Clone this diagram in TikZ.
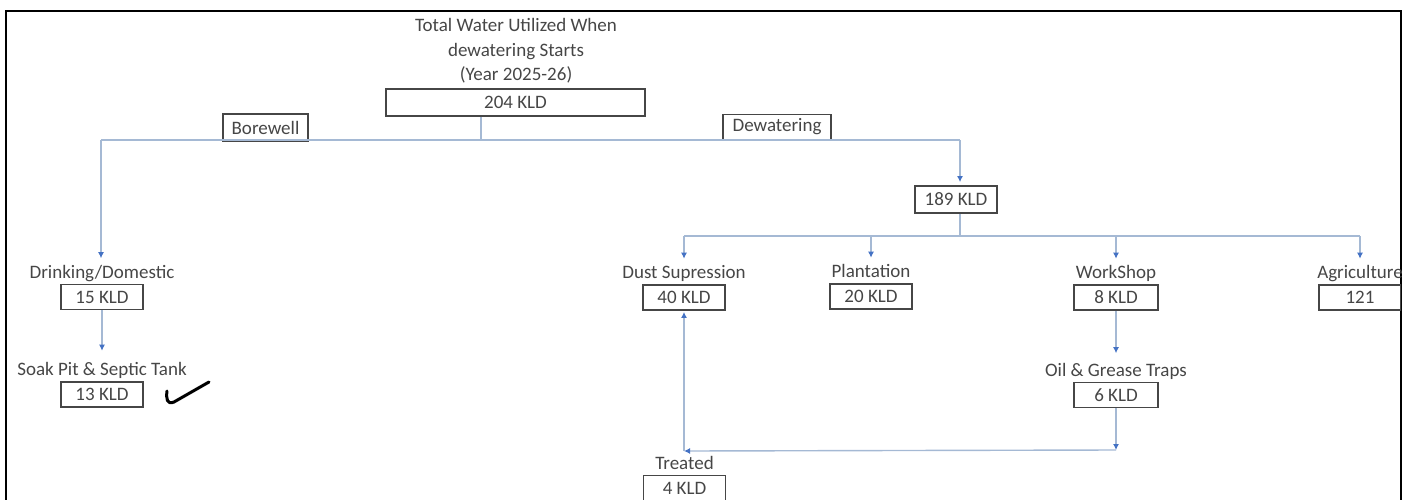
\documentclass[tikz,border=0pt]{standalone}
\usepackage{fontspec}
\setmainfont{Carlito}
\usetikzlibrary{arrows.meta, positioning}
\definecolor{linkblue}{RGB}{165,185,212}
\definecolor{tipblue}{RGB}{68,114,196}
\definecolor{inkgray}{RGB}{70,70,70}

\begin{document}
\begin{tikzpicture}[
			x=1pt, y=-1pt,
			every node/.style={font=\fontsize{19}{24.5}\selectfont, text=inkgray},
			box/.style={rectangle, draw=inkgray, line width=1.8pt, minimum width=82pt, minimum height=25pt, inner sep=0pt},
			lbl/.style={inner sep=1pt, text height=13pt, text depth=4pt},
			link/.style={draw=linkblue, line width=1.4pt},
			flow/.style={link, -{Latex[length=6pt, width=6pt, color=tipblue]}}
			]
			\useasboundingbox (0,0) rectangle (1411,499);
			\draw[line width=2.5pt] (6,11) rectangle (1401,530);
			\begin{scope}
			\clip (6,11) rectangle (1401,530);
			\node[align=center] (title) at (516,51) {Total Water Utilized When\\dewatering Starts\\(Year 2025-26)};
			\node[box, minimum width=259pt, minimum height=27pt] (total) at (515.5,102.5) {204 KLD};
			\node[box, minimum width=85pt, minimum height=27pt] (bore) at (265.5,127.5) {Borewell};
			\node[box, minimum width=108pt] (dewat) at (777,127) {Dewatering};
			\coordinate (split) at (481,140);
			\coordinate (lc) at (101,140);
			\coordinate (rc) at (960,140);
			\node[box, minimum height=27pt] (k189) at (956,199.5) {189 KLD};
			\coordinate (bus) at (960,236);
			\node[box] (k15) at (102,297) {15 KLD};
			\node[lbl, above=0pt of k15] (drink) {Drinking/Domestic};
			\node[box] (k13) at (102,394.5) {13 KLD};
			\node[lbl, above=0pt of k13] (soak) {Soak Pit \& Septic Tank};
			\node[box] (k40) at (684,297.5) {40 KLD};
			\node[lbl, above=0pt of k40] (dust) {Dust Supression};
			\node[box] (k20) at (871,296.5) {20 KLD};
			\node[lbl, above=0pt of k20] (plant) {Plantation};
			\node[box, minimum width=84pt] (k8) at (1116,297.5) {8 KLD};
			\node[lbl, above=0pt of k8] (work) {WorkShop};
			\node[box] (k121) at (1360,297.5) {121};
			\node[lbl, above=0pt of k121] (agri) {Agriculture};
			\node[box, minimum width=84pt] (k6) at (1116,395) {6 KLD};
			\node[lbl, above=0pt of k6] (oil) {Oil \& Grease Traps};
			\coordinate (jr) at (1116,450);
			\coordinate (jl) at (684,451);
			\node[box] (k4) at (684.5,488) {4 KLD};
			\node[lbl, above=0pt of k4] (treat) {Treated};
			\draw[link] (total.south -| split) -- (split);
			\draw[link] (lc) -- (rc);
			\draw[flow, shorten >=6pt] (lc) -- (lc |- drink.north);
			\draw[flow, shorten >=11pt] (k15) -- (soak);
			\draw[flow, shorten >=3pt] (rc) -- (rc |- k189.north);
			\draw[link] (k189.south -| bus) -- (bus);
			\draw[link] (bus -| k40) -- (bus -| k121);
			\draw[flow, shorten >=6pt] (bus -| k40) -- (dust);
			\draw[flow, shorten >=6pt] (bus -| k20) -- (plant);
			\draw[flow, shorten >=6pt] (bus -| k8) -- (work);
			\draw[flow, shorten >=6pt] (bus -| k121) -- (agri);
			\draw[flow, shorten >=9pt] (k8) -- (oil);
			\draw[flow] (k6) -- (jr);
			\draw[flow] (jr) -- (jl);
			\draw[flow, shorten >=1pt] (jl) -- (k40);
			\draw[line width=3pt, line cap=round, line join=round] (167,391) .. controls (166,399) and (167,405) .. (174,402) -- (209,382);
			\end{scope}
		\end{tikzpicture}
\end{document}
